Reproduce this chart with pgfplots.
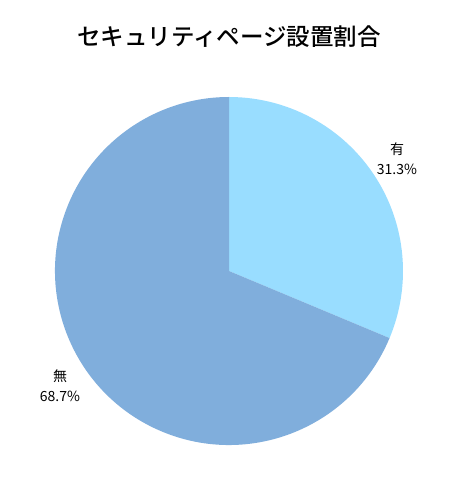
\documentclass[border=0pt]{standalone}
\usepackage{pgfplots}
\pgfplotsset{compat=1.18}
\usepackage{fontspec}
\setmainfont{Noto Sans CJK JP}
\newfontfamily\titlefont{Noto Sans CJK JP Medium}

\definecolor{sliceA}{RGB}{153,221,255}
\definecolor{sliceB}{RGB}{128,174,220}

% shares in percent
\def\valA{31.3}
\def\valB{68.7}

\begin{document}
\begin{tikzpicture}
  \fill[white] (0,0) rectangle (460pt,496pt);
  \useasboundingbox (0,0) rectangle (460pt,496pt);
  \begin{axis}[
      at={(0,0)}, anchor=south west,
      width=460pt, height=496pt, scale only axis,
      xmin=0, xmax=460, ymin=0, ymax=496,
      hide axis, clip=false]
    \pgfmathsetmacro\angA{90-3.6*\valA}
    \fill[sliceA] (axis cs:229,225) -- ++(90:174pt)
      arc[start angle=90, end angle=\angA, radius=174pt] -- cycle;
    \fill[sliceB] (axis cs:229,225) -- ++(\angA:174pt)
      arc[start angle=\angA, end angle=-270, radius=174pt] -- cycle;
    \node[font=\titlefont\fontsize{23.5}{28}\selectfont] at (axis cs:229,459)
      {セキュリティページ設置割合};
    \node[font=\fontsize{14}{20}\selectfont, align=center] at (axis cs:397,337)
      {有\\\valA\%};
    \node[font=\fontsize{14}{20}\selectfont, align=center] at (axis cs:60,110)
      {無\\\valB\%};
  \end{axis}
\end{tikzpicture}
\end{document}
